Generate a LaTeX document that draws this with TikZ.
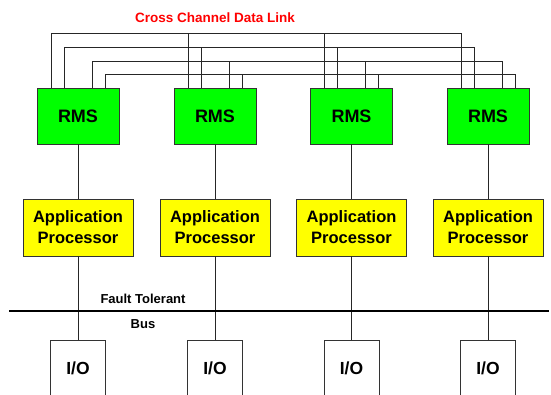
\documentclass[tikz,border=0pt]{standalone}
\usepackage{fontspec}
\setmainfont{Liberation Sans}
\definecolor{rmsgreen}{RGB}{0,255,0}
\definecolor{apyellow}{RGB}{255,255,0}
\definecolor{linkred}{RGB}{255,0,0}
\begin{document}
\begin{tikzpicture}[x=1pt,y=-1pt,
  box/.style={draw=black!80, line width=0.9pt, inner sep=0pt, align=center, font=\bfseries},
  rmsbox/.style={box, fill=rmsgreen, minimum width=82pt, minimum height=56pt, font=\fontsize{18}{21}\bfseries\selectfont},
  apbox/.style={box, fill=apyellow, minimum width=110pt, minimum height=57pt, font=\fontsize{16.5}{21}\bfseries\selectfont},
  iobox/.style={box, fill=white, minimum width=55pt, minimum height=56pt, font=\fontsize{17.5}{21}\bfseries\selectfont},
  wire/.style={draw=black!85, line width=0.8pt},
  busline/.style={draw=black, line width=2.4pt},
  lbl/.style={font=\fontsize{13}{15}\bfseries\selectfont, inner sep=0pt}
]
\useasboundingbox (0,0) rectangle (551,394);
\clip (0,0) rectangle (551,394);

% cross channel link heights
\coordinate (L1) at (0,33);
\coordinate (L2) at (0,47);
\coordinate (L3) at (0,61);
\coordinate (L4) at (0,74);

\foreach \i/\x in {1/78, 2/215, 3/351.5, 4/488} {
  \node[rmsbox] (rms\i) at (\x,116) {RMS};
  \node[apbox]  (ap\i)  at (\x,227.5) {Application\\Processor};
  % the I/O boxes run off the bottom edge
  \node[iobox] (io\i) at (\x,368) {I/O};
  % link stubs on top of each RMS
  \coordinate (s\i1) at ([xshift=-27pt]rms\i.north);
  \coordinate (s\i2) at ([xshift=-14pt]rms\i.north);
  \coordinate (s\i3) at ([xshift=14pt]rms\i.north);
  \coordinate (s\i4) at ([xshift=27pt]rms\i.north);
  % vertical connections down the channel
  \draw[wire] (rms\i.south) -- (ap\i.north);
  \draw[wire] (ap\i.south) -- (io\i.north);
}

% cross channel data link
\foreach \k in {1,2,3,4} {
  \draw[wire] (s1\k) -- (s1\k |- L\k) -- (s4\k |- L\k) -- (s4\k);
  \draw[wire] (s2\k) -- (s2\k |- L\k);
  \draw[wire] (s3\k) -- (s3\k |- L\k);
}

\node[font=\fontsize{13.5}{15}\bfseries\selectfont, text=linkred, inner sep=0pt, anchor=base] (title) at (215,22) {Cross Channel Data Link};

% fault tolerant bus
\coordinate (busL) at (9,311);
\coordinate (busR) at (549,311);
\draw[busline] (busL) -- (busR);
\node[lbl, anchor=base] (bustop) at (143,303) {Fault Tolerant};
\node[lbl, anchor=base] (busbot) at (143,328) {Bus};
\end{tikzpicture}
\end{document}
